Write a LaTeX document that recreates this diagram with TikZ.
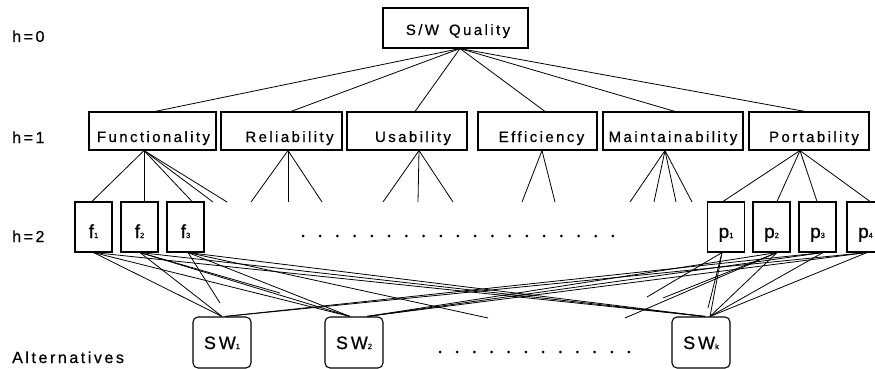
\documentclass[tikz,border=0pt]{standalone}
\usepackage{fontspec}
\setmainfont{Liberation Sans}[LetterSpace=16, FakeBold=0.6]
\newcommand{\sbs}[1]{{\fontsize{7.5}{7.5}\selectfont #1}}
\begin{document}
\begin{tikzpicture}[x=1pt,y=-1pt,
  box/.style={draw, line width=1.1pt, inner sep=0pt},
  topbox/.style={box, minimum width=145pt, text height=27pt, text depth=13pt, font=\fontsize{15}{15}\selectfont},
  critbox/.style={box, text height=30pt, text depth=8pt, font=\fontsize{15}{15}\selectfont},
  subbox/.style={box, minimum width=37pt, text height=36pt, text depth=14pt, font=\fontsize{19}{19}\selectfont},
  altbox/.style={box, rounded corners=5pt, minimum width=58pt, text height=32pt, text depth=19pt, font=\fontsize{18}{18}\selectfont},
  con/.style={line width=0.8pt},
  lab/.style={anchor=base west, inner sep=0pt, font=\fontsize{16}{16}\selectfont}]
\useasboundingbox (0,0) rectangle (875,369);
\clip (0,0) rectangle (875,369);

% labels
\node[lab] (l0) at (12,42) {h=0};
\node[lab] (l1) at (12,143) {h=1};
\node[lab] (l2) at (12,242) {h=2};
\node[lab] (la) at (12,363) {Alternatives};

% goal
\node[topbox] (q) at (455.5,28) {\hspace{5pt}S/W\hspace{10pt}Quality};

% criteria
\node[critbox, minimum width=127pt] (F) at (152.5,131) {\hspace{2pt}Functionality};
\node[critbox, minimum width=121pt] (R) at (281.5,131) {\hspace{16pt}Reliability};
\node[critbox, minimum width=120pt] (U) at (407,131) {\hspace{12pt}Usability};
\node[critbox, minimum width=119pt] (E) at (537.5,131) {\hspace{8pt}Efficiency};
\node[critbox, minimum width=140pt] (M) at (673,131) {Maintainability};
\node[critbox, minimum width=120pt] (P) at (809,131) {\hspace{10pt}Portability};

% sub-criteria
\node[subbox] (f1) at (93.5,227) {f\sbs{1}};
\node[subbox] (f2) at (139.5,227) {f\sbs{2}};
\node[subbox] (f3) at (185.5,227) {f\sbs{3}};
\node[subbox] (p1) at (726,227) {p\sbs{1}};
\node[subbox] (p2) at (771.5,227) {p\sbs{2}};
\node[subbox] (p3) at (817.5,227) {p\sbs{3}};
\node[subbox] (p4) at (865.5,227) {p\sbs{4}};

% alternatives
\node[altbox] (s1) at (222,342.5) {SW\sbs{1}};
\node[altbox] (s2) at (354,342.5) {SW\sbs{2}};
\node[altbox] (sk) at (701,342.5) {SW\sbs{k}};

% dots
\foreach \i in {0,...,18} \fill ({303+\i*17.22},236) circle (1.5pt);
\foreach \i in {0,...,11} \fill ({440+\i*17.18},352) circle (1.5pt);

% goal to criteria
\foreach \n/\s in {F/2.5, R/9.5, U/8, E/7.5, M/2, P/-4}
  \draw[con] ([xshift=4.5pt]q.south) -- ([xshift=\s pt]\n.south |- \n.north);

% dangling ends below criteria
\foreach \nm/\x in {a1/213, a2/227, b1/251, b2/288, b3/322, c1/383, c2/418, c3/453,
                    d1/522, d2/555, e1/630, e2/654, e3/676, e4/692}
  \coordinate (\nm) at (\x,202);

\draw[con] ([xshift=-8.5pt]F.south) -- ([xshift=-1.5pt]f1.north);
\draw[con] ([xshift=-8.5pt]F.south) -- ([xshift=4.5pt]f2.north);
\draw[con] ([xshift=-8.5pt]F.south) -- ([xshift=6.5pt]f3.north);
\draw[con] ([xshift=-8.5pt]F.south) -- (a1);
\draw[con] ([xshift=-8.5pt]F.south) -- (a2);
\foreach \c in {b1,b2,b3} \draw[con] ([xshift=6.5pt]R.south) -- (\c);
\foreach \c in {c1,c2,c3} \draw[con] ([xshift=12pt]U.south) -- (\c);
\foreach \c in {d1,d2} \draw[con] ([xshift=4.5pt]E.south) -- (\c);
\foreach \c in {e1,e2,e3,e4} \draw[con] ([xshift=-8pt]M.south) -- (\c);
\draw[con] ([xshift=-9pt]P.south) -- ([xshift=-3pt]p1.north);
\draw[con] ([xshift=-9pt]P.south) -- ([xshift=5.5pt]p2.north);
\draw[con] ([xshift=-9pt]P.south) -- ([xshift=-0.5pt]p3.north);
\draw[con] ([xshift=-9pt]P.south) -- ([xshift=4.5pt]p4.north);

% sub-criteria to alternatives
\draw[con] (f1.south) -- (s1.north);
\draw[con] ([xshift=0.5pt]f2.south) -- (s1.north);
\foreach \n/\s in {f1/0, f2/0.5, f3/2.5} {
  \draw[con] ([xshift=\s pt]\n.south) -- ([xshift=-4pt]s2.north);
  \draw[con] ([xshift=\s pt]\n.south) -- ([xshift=4pt]sk.north);
}
\foreach \n/\s in {p3/5.5, p4/1.5}
  \draw[con] ([xshift=\s pt]\n.south) -- ([xshift=3pt]s1.north);
\foreach \n/\s in {p2/5.5, p3/5.5, p4/1.5}
  \draw[con] ([xshift=\s pt]\n.south) -- ([xshift=13pt]s2.north);
\foreach \n/\s in {p1/-4, p2/5.5, p3/5.5, p4/1.5}
  \draw[con] ([xshift=\s pt]\n.south) -- ([xshift=9pt]sk.north);

% dangling ends above alternatives
\coordinate (g1) at (220,303);
\coordinate (g2) at (280,293);
\coordinate (g3) at (488,318);
\coordinate (g4) at (625,318);
\coordinate (g5) at (647,297);
\coordinate (g6) at (663,298);
\coordinate (g7) at (708,308);
\draw[con] ([xshift=2.5pt]f3.south) -- (g1);
\draw[con] ([xshift=0.5pt]f2.south) -- (g2);
\draw[con] ([xshift=2.5pt]f3.south) -- (g3);
\draw[con] ([xshift=5.5pt]p2.south) -- (g4);
\draw[con] ([xshift=-4pt]p1.south) -- (g5);
\draw[con] ([xshift=5.5pt]p2.south) -- (g6);
\draw[con] ([xshift=-4pt]p1.south) -- (g7);
\end{tikzpicture}
\end{document}
